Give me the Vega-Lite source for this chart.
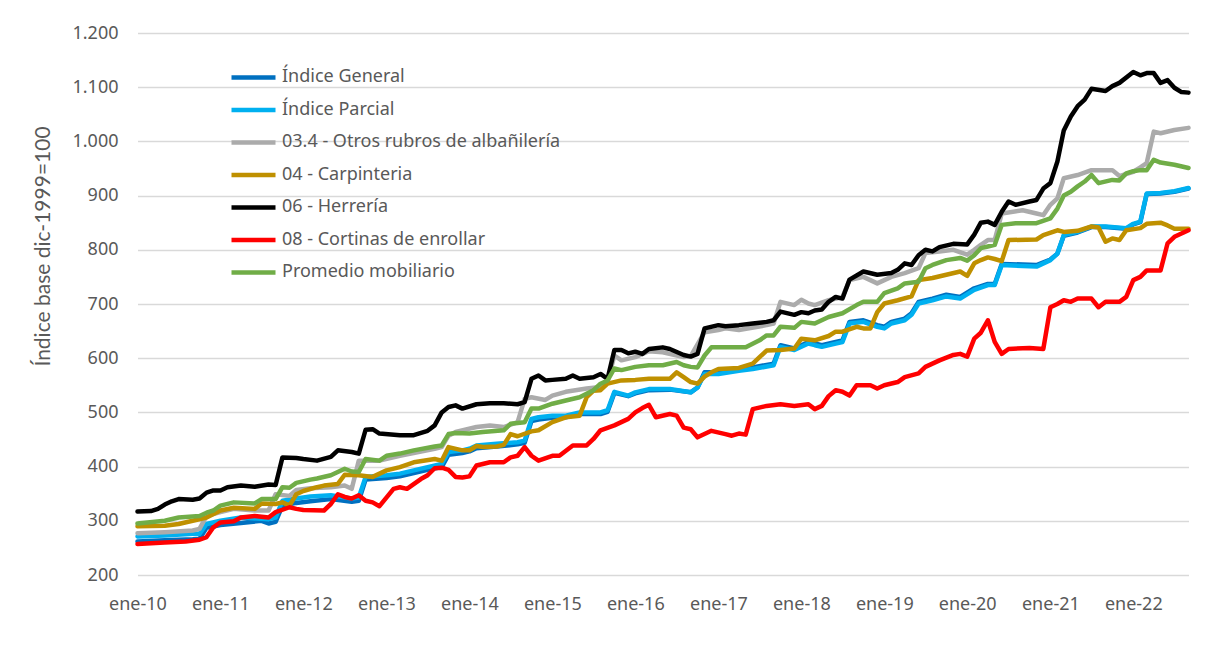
{
"$schema": "https://vega.github.io/schema/vega-lite/v6.json",
"width": 1051, "height": 542,
"autosize": {"type": "none"},
"padding": {"left": 137.5, "top": 33, "right": 22.5, "bottom": 83},
"background": "white",
"config": {"view": {"stroke": null}, "font": "Noto Sans"},
"data": {"values": [
{"serie":"Índice General","fecha":"2010-01-01","valor":262},{"serie":"Índice General","fecha":"2010-05-01","valor":264},{"serie":"Índice General","fecha":"2010-09-01","valor":266},{"serie":"Índice General","fecha":"2010-10-01","valor":267},{"serie":"Índice General","fecha":"2010-11-01","valor":287},{"serie":"Índice General","fecha":"2011-01-01","valor":292},{"serie":"Índice General","fecha":"2011-04-01","valor":296},{"serie":"Índice General","fecha":"2011-07-01","valor":300},{"serie":"Índice General","fecha":"2011-08-01","valor":295},{"serie":"Índice General","fecha":"2011-09-01","valor":298},{"serie":"Índice General","fecha":"2011-10-01","valor":328},{"serie":"Índice General","fecha":"2011-12-01","valor":333},{"serie":"Índice General","fecha":"2012-02-01","valor":336},{"serie":"Índice General","fecha":"2012-05-01","valor":340},{"serie":"Índice General","fecha":"2012-08-01","valor":335},{"serie":"Índice General","fecha":"2012-09-01","valor":337},{"serie":"Índice General","fecha":"2012-10-01","valor":376},{"serie":"Índice General","fecha":"2013-01-01","valor":379},{"serie":"Índice General","fecha":"2013-03-01","valor":382},{"serie":"Índice General","fecha":"2013-05-01","valor":388},{"serie":"Índice General","fecha":"2013-07-01","valor":394},{"serie":"Índice General","fecha":"2013-09-01","valor":399},{"serie":"Índice General","fecha":"2013-10-01","valor":422},{"serie":"Índice General","fecha":"2013-12-01","valor":425},{"serie":"Índice General","fecha":"2014-01-01","valor":428},{"serie":"Índice General","fecha":"2014-02-01","valor":434},{"serie":"Índice General","fecha":"2014-05-01","valor":437},{"serie":"Índice General","fecha":"2014-08-01","valor":441},{"serie":"Índice General","fecha":"2014-09-01","valor":444},{"serie":"Índice General","fecha":"2014-10-01","valor":484},{"serie":"Índice General","fecha":"2014-11-01","valor":487},{"serie":"Índice General","fecha":"2015-01-01","valor":490},{"serie":"Índice General","fecha":"2015-03-01","valor":491},{"serie":"Índice General","fecha":"2015-05-01","valor":497},{"serie":"Índice General","fecha":"2015-08-01","valor":497},{"serie":"Índice General","fecha":"2015-09-01","valor":501},{"serie":"Índice General","fecha":"2015-10-01","valor":536},{"serie":"Índice General","fecha":"2015-12-01","valor":530},{"serie":"Índice General","fecha":"2016-01-01","valor":535},{"serie":"Índice General","fecha":"2016-03-01","valor":541},{"serie":"Índice General","fecha":"2016-06-01","valor":542},{"serie":"Índice General","fecha":"2016-09-01","valor":537},{"serie":"Índice General","fecha":"2016-10-01","valor":546},{"serie":"Índice General","fecha":"2016-11-01","valor":574},{"serie":"Índice General","fecha":"2017-01-01","valor":574},{"serie":"Índice General","fecha":"2017-04-01","valor":580},{"serie":"Índice General","fecha":"2017-06-01","valor":583},{"serie":"Índice General","fecha":"2017-09-01","valor":590},{"serie":"Índice General","fecha":"2017-10-01","valor":624},{"serie":"Índice General","fecha":"2017-12-01","valor":618},{"serie":"Índice General","fecha":"2018-02-01","valor":630},{"serie":"Índice General","fecha":"2018-03-01","valor":627},{"serie":"Índice General","fecha":"2018-04-01","valor":624},{"serie":"Índice General","fecha":"2018-06-01","valor":630},{"serie":"Índice General","fecha":"2018-07-01","valor":633},{"serie":"Índice General","fecha":"2018-08-01","valor":667},{"serie":"Índice General","fecha":"2018-10-01","valor":670},{"serie":"Índice General","fecha":"2018-12-01","valor":661},{"serie":"Índice General","fecha":"2019-01-01","valor":658},{"serie":"Índice General","fecha":"2019-02-01","valor":667},{"serie":"Índice General","fecha":"2019-04-01","valor":673},{"serie":"Índice General","fecha":"2019-05-01","valor":683},{"serie":"Índice General","fecha":"2019-06-01","valor":704},{"serie":"Índice General","fecha":"2019-08-01","valor":710},{"serie":"Índice General","fecha":"2019-10-01","valor":717},{"serie":"Índice General","fecha":"2019-12-01","valor":713},{"serie":"Índice General","fecha":"2020-02-01","valor":729},{"serie":"Índice General","fecha":"2020-04-01","valor":737},{"serie":"Índice General","fecha":"2020-05-01","valor":737},{"serie":"Índice General","fecha":"2020-06-01","valor":774},{"serie":"Índice General","fecha":"2020-11-01","valor":772},{"serie":"Índice General","fecha":"2021-01-01","valor":782},{"serie":"Índice General","fecha":"2021-02-01","valor":793},{"serie":"Índice General","fecha":"2021-03-01","valor":826},{"serie":"Índice General","fecha":"2021-05-01","valor":832},{"serie":"Índice General","fecha":"2021-07-01","valor":842},{"serie":"Índice General","fecha":"2021-09-01","valor":842},{"serie":"Índice General","fecha":"2021-12-01","valor":839},{"serie":"Índice General","fecha":"2022-01-01","valor":847},{"serie":"Índice General","fecha":"2022-02-01","valor":851},{"serie":"Índice General","fecha":"2022-03-01","valor":903},{"serie":"Índice General","fecha":"2022-05-01","valor":904},{"serie":"Índice General","fecha":"2022-07-01","valor":907},{"serie":"Índice General","fecha":"2022-09-01","valor":913},
{"serie":"Índice Parcial","fecha":"2010-01-01","valor":271},{"serie":"Índice Parcial","fecha":"2010-05-01","valor":273},{"serie":"Índice Parcial","fecha":"2010-09-01","valor":276},{"serie":"Índice Parcial","fecha":"2010-10-01","valor":276},{"serie":"Índice Parcial","fecha":"2010-11-01","valor":294},{"serie":"Índice Parcial","fecha":"2011-01-01","valor":300},{"serie":"Índice Parcial","fecha":"2011-04-01","valor":306},{"serie":"Índice Parcial","fecha":"2011-08-01","valor":303},{"serie":"Índice Parcial","fecha":"2011-09-01","valor":306},{"serie":"Índice Parcial","fecha":"2011-10-01","valor":337},{"serie":"Índice Parcial","fecha":"2011-12-01","valor":341},{"serie":"Índice Parcial","fecha":"2012-02-01","valor":345},{"serie":"Índice Parcial","fecha":"2012-05-01","valor":347},{"serie":"Índice Parcial","fecha":"2012-08-01","valor":341},{"serie":"Índice Parcial","fecha":"2012-09-01","valor":343},{"serie":"Índice Parcial","fecha":"2012-10-01","valor":381},{"serie":"Índice Parcial","fecha":"2013-01-01","valor":384},{"serie":"Índice Parcial","fecha":"2013-03-01","valor":387},{"serie":"Índice Parcial","fecha":"2013-05-01","valor":393},{"serie":"Índice Parcial","fecha":"2013-07-01","valor":399},{"serie":"Índice Parcial","fecha":"2013-09-01","valor":405},{"serie":"Índice Parcial","fecha":"2013-10-01","valor":427},{"serie":"Índice Parcial","fecha":"2013-12-01","valor":430},{"serie":"Índice Parcial","fecha":"2014-01-01","valor":433},{"serie":"Índice Parcial","fecha":"2014-02-01","valor":439},{"serie":"Índice Parcial","fecha":"2014-05-01","valor":442},{"serie":"Índice Parcial","fecha":"2014-08-01","valor":445},{"serie":"Índice Parcial","fecha":"2014-09-01","valor":448},{"serie":"Índice Parcial","fecha":"2014-10-01","valor":488},{"serie":"Índice Parcial","fecha":"2014-11-01","valor":491},{"serie":"Índice Parcial","fecha":"2015-01-01","valor":494},{"serie":"Índice Parcial","fecha":"2015-03-01","valor":494},{"serie":"Índice Parcial","fecha":"2015-05-01","valor":500},{"serie":"Índice Parcial","fecha":"2015-08-01","valor":500},{"serie":"Índice Parcial","fecha":"2015-09-01","valor":504},{"serie":"Índice Parcial","fecha":"2015-10-01","valor":538},{"serie":"Índice Parcial","fecha":"2015-12-01","valor":531},{"serie":"Índice Parcial","fecha":"2016-01-01","valor":537},{"serie":"Índice Parcial","fecha":"2016-03-01","valor":543},{"serie":"Índice Parcial","fecha":"2016-06-01","valor":543},{"serie":"Índice Parcial","fecha":"2016-09-01","valor":537},{"serie":"Índice Parcial","fecha":"2016-10-01","valor":546},{"serie":"Índice Parcial","fecha":"2016-11-01","valor":571},{"serie":"Índice Parcial","fecha":"2017-01-01","valor":571},{"serie":"Índice Parcial","fecha":"2017-04-01","valor":577},{"serie":"Índice Parcial","fecha":"2017-06-01","valor":580},{"serie":"Índice Parcial","fecha":"2017-09-01","valor":587},{"serie":"Índice Parcial","fecha":"2017-10-01","valor":621},{"serie":"Índice Parcial","fecha":"2017-12-01","valor":615},{"serie":"Índice Parcial","fecha":"2018-02-01","valor":627},{"serie":"Índice Parcial","fecha":"2018-03-01","valor":624},{"serie":"Índice Parcial","fecha":"2018-04-01","valor":621},{"serie":"Índice Parcial","fecha":"2018-06-01","valor":627},{"serie":"Índice Parcial","fecha":"2018-07-01","valor":630},{"serie":"Índice Parcial","fecha":"2018-08-01","valor":664},{"serie":"Índice Parcial","fecha":"2018-10-01","valor":667},{"serie":"Índice Parcial","fecha":"2018-12-01","valor":658},{"serie":"Índice Parcial","fecha":"2019-01-01","valor":655},{"serie":"Índice Parcial","fecha":"2019-02-01","valor":664},{"serie":"Índice Parcial","fecha":"2019-04-01","valor":670},{"serie":"Índice Parcial","fecha":"2019-05-01","valor":680},{"serie":"Índice Parcial","fecha":"2019-06-01","valor":701},{"serie":"Índice Parcial","fecha":"2019-08-01","valor":707},{"serie":"Índice Parcial","fecha":"2019-10-01","valor":714},{"serie":"Índice Parcial","fecha":"2019-12-01","valor":710},{"serie":"Índice Parcial","fecha":"2020-02-01","valor":726},{"serie":"Índice Parcial","fecha":"2020-04-01","valor":735},{"serie":"Índice Parcial","fecha":"2020-05-01","valor":735},{"serie":"Índice Parcial","fecha":"2020-06-01","valor":772},{"serie":"Índice Parcial","fecha":"2020-11-01","valor":769},{"serie":"Índice Parcial","fecha":"2021-01-01","valor":781},{"serie":"Índice Parcial","fecha":"2021-02-01","valor":793},{"serie":"Índice Parcial","fecha":"2021-03-01","valor":827},{"serie":"Índice Parcial","fecha":"2021-05-01","valor":833},{"serie":"Índice Parcial","fecha":"2021-07-01","valor":843},{"serie":"Índice Parcial","fecha":"2021-09-01","valor":843},{"serie":"Índice Parcial","fecha":"2021-12-01","valor":840},{"serie":"Índice Parcial","fecha":"2022-01-01","valor":848},{"serie":"Índice Parcial","fecha":"2022-02-01","valor":852},{"serie":"Índice Parcial","fecha":"2022-03-01","valor":904},{"serie":"Índice Parcial","fecha":"2022-05-01","valor":905},{"serie":"Índice Parcial","fecha":"2022-07-01","valor":908},{"serie":"Índice Parcial","fecha":"2022-09-01","valor":914},
{"serie":"03.4 - Otros rubros de albañilería","fecha":"2010-01-01","valor":277},{"serie":"03.4 - Otros rubros de albañilería","fecha":"2010-05-01","valor":279},{"serie":"03.4 - Otros rubros de albañilería","fecha":"2010-09-01","valor":282},{"serie":"03.4 - Otros rubros de albañilería","fecha":"2010-10-01","valor":285},{"serie":"03.4 - Otros rubros de albañilería","fecha":"2010-11-01","valor":309},{"serie":"03.4 - Otros rubros de albañilería","fecha":"2011-01-01","valor":316},{"serie":"03.4 - Otros rubros de albañilería","fecha":"2011-03-01","valor":322},{"serie":"03.4 - Otros rubros de albañilería","fecha":"2011-06-01","valor":319},{"serie":"03.4 - Otros rubros de albañilería","fecha":"2011-08-01","valor":319},{"serie":"03.4 - Otros rubros de albañilería","fecha":"2011-09-01","valor":349},{"serie":"03.4 - Otros rubros de albañilería","fecha":"2011-11-01","valor":346},{"serie":"03.4 - Otros rubros de albañilería","fecha":"2011-12-01","valor":357},{"serie":"03.4 - Otros rubros de albañilería","fecha":"2012-02-01","valor":360},{"serie":"03.4 - Otros rubros de albañilería","fecha":"2012-05-01","valor":362},{"serie":"03.4 - Otros rubros de albañilería","fecha":"2012-07-01","valor":365},{"serie":"03.4 - Otros rubros de albañilería","fecha":"2012-08-01","valor":359},{"serie":"03.4 - Otros rubros de albañilería","fecha":"2012-09-01","valor":411},{"serie":"03.4 - Otros rubros de albañilería","fecha":"2012-12-01","valor":411},{"serie":"03.4 - Otros rubros de albañilería","fecha":"2013-03-01","valor":420},{"serie":"03.4 - Otros rubros de albañilería","fecha":"2013-08-01","valor":433},{"serie":"03.4 - Otros rubros de albañilería","fecha":"2013-09-01","valor":436},{"serie":"03.4 - Otros rubros de albañilería","fecha":"2013-10-01","valor":457},{"serie":"03.4 - Otros rubros de albañilería","fecha":"2013-11-01","valor":464},{"serie":"03.4 - Otros rubros de albañilería","fecha":"2014-02-01","valor":473},{"serie":"03.4 - Otros rubros de albañilería","fecha":"2014-04-01","valor":476},{"serie":"03.4 - Otros rubros de albañilería","fecha":"2014-06-01","valor":473},{"serie":"03.4 - Otros rubros de albañilería","fecha":"2014-08-01","valor":482},{"serie":"03.4 - Otros rubros de albañilería","fecha":"2014-09-01","valor":525},{"serie":"03.4 - Otros rubros de albañilería","fecha":"2014-10-01","valor":528},{"serie":"03.4 - Otros rubros de albañilería","fecha":"2014-12-01","valor":523},{"serie":"03.4 - Otros rubros de albañilería","fecha":"2015-01-01","valor":531},{"serie":"03.4 - Otros rubros de albañilería","fecha":"2015-03-01","valor":538},{"serie":"03.4 - Otros rubros de albañilería","fecha":"2015-06-01","valor":544},{"serie":"03.4 - Otros rubros de albañilería","fecha":"2015-08-01","valor":547},{"serie":"03.4 - Otros rubros de albañilería","fecha":"2015-09-01","valor":556},{"serie":"03.4 - Otros rubros de albañilería","fecha":"2015-10-01","valor":605},{"serie":"03.4 - Otros rubros de albañilería","fecha":"2015-11-01","valor":596},{"serie":"03.4 - Otros rubros de albañilería","fecha":"2016-01-01","valor":602},{"serie":"03.4 - Otros rubros de albañilería","fecha":"2016-03-01","valor":613},{"serie":"03.4 - Otros rubros de albañilería","fecha":"2016-05-01","valor":611},{"serie":"03.4 - Otros rubros de albañilería","fecha":"2016-08-01","valor":602},{"serie":"03.4 - Otros rubros de albañilería","fecha":"2016-09-01","valor":604},{"serie":"03.4 - Otros rubros de albañilería","fecha":"2016-11-01","valor":648},{"serie":"03.4 - Otros rubros de albañilería","fecha":"2017-01-01","valor":652},{"serie":"03.4 - Otros rubros de albañilería","fecha":"2017-02-01","valor":655},{"serie":"03.4 - Otros rubros de albañilería","fecha":"2017-04-01","valor":652},{"serie":"03.4 - Otros rubros de albañilería","fecha":"2017-08-01","valor":661},{"serie":"03.4 - Otros rubros de albañilería","fecha":"2017-09-01","valor":664},{"serie":"03.4 - Otros rubros de albañilería","fecha":"2017-10-01","valor":704},{"serie":"03.4 - Otros rubros de albañilería","fecha":"2017-12-01","valor":698},{"serie":"03.4 - Otros rubros de albañilería","fecha":"2018-01-01","valor":708},{"serie":"03.4 - Otros rubros de albañilería","fecha":"2018-02-01","valor":701},{"serie":"03.4 - Otros rubros de albañilería","fecha":"2018-03-01","valor":698},{"serie":"03.4 - Otros rubros de albañilería","fecha":"2018-05-01","valor":707},{"serie":"03.4 - Otros rubros de albañilería","fecha":"2018-07-01","valor":713},{"serie":"03.4 - Otros rubros de albañilería","fecha":"2018-08-01","valor":744},{"serie":"03.4 - Otros rubros de albañilería","fecha":"2018-10-01","valor":750},{"serie":"03.4 - Otros rubros de albañilería","fecha":"2018-12-01","valor":738},{"serie":"03.4 - Otros rubros de albañilería","fecha":"2019-02-01","valor":750},{"serie":"03.4 - Otros rubros de albañilería","fecha":"2019-04-01","valor":757},{"serie":"03.4 - Otros rubros de albañilería","fecha":"2019-06-01","valor":766},{"serie":"03.4 - Otros rubros de albañilería","fecha":"2019-07-01","valor":794},{"serie":"03.4 - Otros rubros de albañilería","fecha":"2019-09-01","valor":797},{"serie":"03.4 - Otros rubros de albañilería","fecha":"2019-11-01","valor":800},{"serie":"03.4 - Otros rubros de albañilería","fecha":"2020-01-01","valor":791},{"serie":"03.4 - Otros rubros de albañilería","fecha":"2020-02-01","valor":800},{"serie":"03.4 - Otros rubros de albañilería","fecha":"2020-03-01","valor":809},{"serie":"03.4 - Otros rubros de albañilería","fecha":"2020-04-01","valor":818},{"serie":"03.4 - Otros rubros de albañilería","fecha":"2020-05-01","valor":818},{"serie":"03.4 - Otros rubros de albañilería","fecha":"2020-06-01","valor":867},{"serie":"03.4 - Otros rubros de albañilería","fecha":"2020-09-01","valor":873},{"serie":"03.4 - Otros rubros de albañilería","fecha":"2020-11-01","valor":867},{"serie":"03.4 - Otros rubros de albañilería","fecha":"2020-12-01","valor":864},{"serie":"03.4 - Otros rubros de albañilería","fecha":"2021-01-01","valor":883},{"serie":"03.4 - Otros rubros de albañilería","fecha":"2021-02-01","valor":895},{"serie":"03.4 - Otros rubros de albañilería","fecha":"2021-03-01","valor":932},{"serie":"03.4 - Otros rubros de albañilería","fecha":"2021-05-01","valor":938},{"serie":"03.4 - Otros rubros de albañilería","fecha":"2021-07-01","valor":947},{"serie":"03.4 - Otros rubros de albañilería","fecha":"2021-10-01","valor":947},{"serie":"03.4 - Otros rubros de albañilería","fecha":"2021-11-01","valor":936},{"serie":"03.4 - Otros rubros de albañilería","fecha":"2022-01-01","valor":944},{"serie":"03.4 - Otros rubros de albañilería","fecha":"2022-02-01","valor":952},{"serie":"03.4 - Otros rubros de albañilería","fecha":"2022-03-01","valor":960},{"serie":"03.4 - Otros rubros de albañilería","fecha":"2022-04-01","valor":1018},{"serie":"03.4 - Otros rubros de albañilería","fecha":"2022-05-01","valor":1015},{"serie":"03.4 - Otros rubros de albañilería","fecha":"2022-07-01","valor":1021},{"serie":"03.4 - Otros rubros de albañilería","fecha":"2022-09-01","valor":1025},
{"serie":"04 - Carpinteria","fecha":"2010-01-01","valor":290},{"serie":"04 - Carpinteria","fecha":"2010-05-01","valor":291},{"serie":"04 - Carpinteria","fecha":"2010-07-01","valor":294},{"serie":"04 - Carpinteria","fecha":"2010-09-01","valor":300},{"serie":"04 - Carpinteria","fecha":"2010-11-01","valor":306},{"serie":"04 - Carpinteria","fecha":"2011-01-01","valor":319},{"serie":"04 - Carpinteria","fecha":"2011-03-01","valor":324},{"serie":"04 - Carpinteria","fecha":"2011-06-01","valor":322},{"serie":"04 - Carpinteria","fecha":"2011-07-01","valor":332},{"serie":"04 - Carpinteria","fecha":"2011-09-01","valor":331},{"serie":"04 - Carpinteria","fecha":"2011-10-01","valor":334},{"serie":"04 - Carpinteria","fecha":"2011-11-01","valor":328},{"serie":"04 - Carpinteria","fecha":"2011-12-01","valor":349},{"serie":"04 - Carpinteria","fecha":"2012-01-01","valor":355},{"serie":"04 - Carpinteria","fecha":"2012-03-01","valor":362},{"serie":"04 - Carpinteria","fecha":"2012-04-01","valor":365},{"serie":"04 - Carpinteria","fecha":"2012-06-01","valor":368},{"serie":"04 - Carpinteria","fecha":"2012-07-01","valor":385},{"serie":"04 - Carpinteria","fecha":"2012-09-01","valor":384},{"serie":"04 - Carpinteria","fecha":"2012-11-01","valor":381},{"serie":"04 - Carpinteria","fecha":"2013-01-01","valor":393},{"serie":"04 - Carpinteria","fecha":"2013-03-01","valor":399},{"serie":"04 - Carpinteria","fecha":"2013-05-01","valor":408},{"serie":"04 - Carpinteria","fecha":"2013-08-01","valor":414},{"serie":"04 - Carpinteria","fecha":"2013-09-01","valor":411},{"serie":"04 - Carpinteria","fecha":"2013-10-01","valor":436},{"serie":"04 - Carpinteria","fecha":"2013-12-01","valor":430},{"serie":"04 - Carpinteria","fecha":"2014-01-01","valor":430},{"serie":"04 - Carpinteria","fecha":"2014-02-01","valor":438},{"serie":"04 - Carpinteria","fecha":"2014-03-01","valor":436},{"serie":"04 - Carpinteria","fecha":"2014-05-01","valor":437},{"serie":"04 - Carpinteria","fecha":"2014-06-01","valor":440},{"serie":"04 - Carpinteria","fecha":"2014-07-01","valor":460},{"serie":"04 - Carpinteria","fecha":"2014-08-01","valor":456},{"serie":"04 - Carpinteria","fecha":"2014-10-01","valor":465},{"serie":"04 - Carpinteria","fecha":"2014-11-01","valor":467},{"serie":"04 - Carpinteria","fecha":"2015-01-01","valor":482},{"serie":"04 - Carpinteria","fecha":"2015-03-01","valor":491},{"serie":"04 - Carpinteria","fecha":"2015-05-01","valor":494},{"serie":"04 - Carpinteria","fecha":"2015-06-01","valor":528},{"serie":"04 - Carpinteria","fecha":"2015-07-01","valor":540},{"serie":"04 - Carpinteria","fecha":"2015-08-01","valor":541},{"serie":"04 - Carpinteria","fecha":"2015-09-01","valor":553},{"serie":"04 - Carpinteria","fecha":"2015-11-01","valor":559},{"serie":"04 - Carpinteria","fecha":"2016-01-01","valor":560},{"serie":"04 - Carpinteria","fecha":"2016-03-01","valor":562},{"serie":"04 - Carpinteria","fecha":"2016-06-01","valor":562},{"serie":"04 - Carpinteria","fecha":"2016-07-01","valor":574},{"serie":"04 - Carpinteria","fecha":"2016-08-01","valor":565},{"serie":"04 - Carpinteria","fecha":"2016-09-01","valor":556},{"serie":"04 - Carpinteria","fecha":"2016-10-01","valor":553},{"serie":"04 - Carpinteria","fecha":"2016-11-01","valor":566},{"serie":"04 - Carpinteria","fecha":"2016-12-01","valor":574},{"serie":"04 - Carpinteria","fecha":"2017-01-01","valor":580},{"serie":"04 - Carpinteria","fecha":"2017-04-01","valor":582},{"serie":"04 - Carpinteria","fecha":"2017-06-01","valor":590},{"serie":"04 - Carpinteria","fecha":"2017-07-01","valor":602},{"serie":"04 - Carpinteria","fecha":"2017-08-01","valor":614},{"serie":"04 - Carpinteria","fecha":"2017-10-01","valor":615},{"serie":"04 - Carpinteria","fecha":"2017-12-01","valor":618},{"serie":"04 - Carpinteria","fecha":"2018-01-01","valor":636},{"serie":"04 - Carpinteria","fecha":"2018-03-01","valor":633},{"serie":"04 - Carpinteria","fecha":"2018-05-01","valor":641},{"serie":"04 - Carpinteria","fecha":"2018-06-01","valor":649},{"serie":"04 - Carpinteria","fecha":"2018-07-01","valor":649},{"serie":"04 - Carpinteria","fecha":"2018-09-01","valor":658},{"serie":"04 - Carpinteria","fecha":"2018-10-01","valor":655},{"serie":"04 - Carpinteria","fecha":"2018-11-01","valor":655},{"serie":"04 - Carpinteria","fecha":"2018-12-01","valor":685},{"serie":"04 - Carpinteria","fecha":"2019-01-01","valor":701},{"serie":"04 - Carpinteria","fecha":"2019-03-01","valor":707},{"serie":"04 - Carpinteria","fecha":"2019-05-01","valor":714},{"serie":"04 - Carpinteria","fecha":"2019-06-01","valor":744},{"serie":"04 - Carpinteria","fecha":"2019-08-01","valor":748},{"serie":"04 - Carpinteria","fecha":"2019-10-01","valor":754},{"serie":"04 - Carpinteria","fecha":"2019-12-01","valor":760},{"serie":"04 - Carpinteria","fecha":"2020-01-01","valor":752},{"serie":"04 - Carpinteria","fecha":"2020-02-01","valor":775},{"serie":"04 - Carpinteria","fecha":"2020-03-01","valor":781},{"serie":"04 - Carpinteria","fecha":"2020-04-01","valor":786},{"serie":"04 - Carpinteria","fecha":"2020-05-01","valor":783},{"serie":"04 - Carpinteria","fecha":"2020-06-01","valor":779},{"serie":"04 - Carpinteria","fecha":"2020-07-01","valor":818},{"serie":"04 - Carpinteria","fecha":"2020-11-01","valor":819},{"serie":"04 - Carpinteria","fecha":"2020-12-01","valor":827},{"serie":"04 - Carpinteria","fecha":"2021-02-01","valor":836},{"serie":"04 - Carpinteria","fecha":"2021-03-01","valor":833},{"serie":"04 - Carpinteria","fecha":"2021-05-01","valor":835},{"serie":"04 - Carpinteria","fecha":"2021-07-01","valor":843},{"serie":"04 - Carpinteria","fecha":"2021-08-01","valor":841},{"serie":"04 - Carpinteria","fecha":"2021-09-01","valor":815},{"serie":"04 - Carpinteria","fecha":"2021-10-01","valor":821},{"serie":"04 - Carpinteria","fecha":"2021-11-01","valor":818},{"serie":"04 - Carpinteria","fecha":"2021-12-01","valor":836},{"serie":"04 - Carpinteria","fecha":"2022-02-01","valor":840},{"serie":"04 - Carpinteria","fecha":"2022-03-01","valor":848},{"serie":"04 - Carpinteria","fecha":"2022-05-01","valor":850},{"serie":"04 - Carpinteria","fecha":"2022-06-01","valor":845},{"serie":"04 - Carpinteria","fecha":"2022-07-01","valor":839},{"serie":"04 - Carpinteria","fecha":"2022-09-01","valor":839},
{"serie":"06 - Herrería","fecha":"2010-01-01","valor":317},{"serie":"06 - Herrería","fecha":"2010-03-01","valor":318},{"serie":"06 - Herrería","fecha":"2010-04-01","valor":322},{"serie":"06 - Herrería","fecha":"2010-05-01","valor":330},{"serie":"06 - Herrería","fecha":"2010-06-01","valor":336},{"serie":"06 - Herrería","fecha":"2010-07-01","valor":340},{"serie":"06 - Herrería","fecha":"2010-09-01","valor":339},{"serie":"06 - Herrería","fecha":"2010-10-01","valor":341},{"serie":"06 - Herrería","fecha":"2010-11-01","valor":352},{"serie":"06 - Herrería","fecha":"2010-12-01","valor":356},{"serie":"06 - Herrería","fecha":"2011-01-01","valor":356},{"serie":"06 - Herrería","fecha":"2011-02-01","valor":362},{"serie":"06 - Herrería","fecha":"2011-04-01","valor":365},{"serie":"06 - Herrería","fecha":"2011-06-01","valor":363},{"serie":"06 - Herrería","fecha":"2011-08-01","valor":367},{"serie":"06 - Herrería","fecha":"2011-09-01","valor":366},{"serie":"06 - Herrería","fecha":"2011-10-01","valor":417},{"serie":"06 - Herrería","fecha":"2011-12-01","valor":416},{"serie":"06 - Herrería","fecha":"2012-01-01","valor":414},{"serie":"06 - Herrería","fecha":"2012-03-01","valor":411},{"serie":"06 - Herrería","fecha":"2012-05-01","valor":418},{"serie":"06 - Herrería","fecha":"2012-06-01","valor":430},{"serie":"06 - Herrería","fecha":"2012-08-01","valor":427},{"serie":"06 - Herrería","fecha":"2012-09-01","valor":424},{"serie":"06 - Herrería","fecha":"2012-10-01","valor":468},{"serie":"06 - Herrería","fecha":"2012-11-01","valor":469},{"serie":"06 - Herrería","fecha":"2012-12-01","valor":461},{"serie":"06 - Herrería","fecha":"2013-03-01","valor":458},{"serie":"06 - Herrería","fecha":"2013-05-01","valor":458},{"serie":"06 - Herrería","fecha":"2013-07-01","valor":466},{"serie":"06 - Herrería","fecha":"2013-08-01","valor":476},{"serie":"06 - Herrería","fecha":"2013-09-01","valor":500},{"serie":"06 - Herrería","fecha":"2013-10-01","valor":510},{"serie":"06 - Herrería","fecha":"2013-11-01","valor":513},{"serie":"06 - Herrería","fecha":"2013-12-01","valor":507},{"serie":"06 - Herrería","fecha":"2014-02-01","valor":515},{"serie":"06 - Herrería","fecha":"2014-04-01","valor":517},{"serie":"06 - Herrería","fecha":"2014-06-01","valor":517},{"serie":"06 - Herrería","fecha":"2014-08-01","valor":515},{"serie":"06 - Herrería","fecha":"2014-09-01","valor":519},{"serie":"06 - Herrería","fecha":"2014-10-01","valor":562},{"serie":"06 - Herrería","fecha":"2014-11-01","valor":568},{"serie":"06 - Herrería","fecha":"2014-12-01","valor":559},{"serie":"06 - Herrería","fecha":"2015-01-01","valor":560},{"serie":"06 - Herrería","fecha":"2015-03-01","valor":562},{"serie":"06 - Herrería","fecha":"2015-04-01","valor":568},{"serie":"06 - Herrería","fecha":"2015-05-01","valor":562},{"serie":"06 - Herrería","fecha":"2015-07-01","valor":565},{"serie":"06 - Herrería","fecha":"2015-08-01","valor":571},{"serie":"06 - Herrería","fecha":"2015-09-01","valor":562},{"serie":"06 - Herrería","fecha":"2015-10-01","valor":615},{"serie":"06 - Herrería","fecha":"2015-11-01","valor":615},{"serie":"06 - Herrería","fecha":"2015-12-01","valor":609},{"serie":"06 - Herrería","fecha":"2016-01-01","valor":612},{"serie":"06 - Herrería","fecha":"2016-02-01","valor":608},{"serie":"06 - Herrería","fecha":"2016-03-01","valor":617},{"serie":"06 - Herrería","fecha":"2016-05-01","valor":620},{"serie":"06 - Herrería","fecha":"2016-06-01","valor":617},{"serie":"06 - Herrería","fecha":"2016-08-01","valor":606},{"serie":"06 - Herrería","fecha":"2016-09-01","valor":603},{"serie":"06 - Herrería","fecha":"2016-10-01","valor":608},{"serie":"06 - Herrería","fecha":"2016-11-01","valor":655},{"serie":"06 - Herrería","fecha":"2017-01-01","valor":661},{"serie":"06 - Herrería","fecha":"2017-02-01","valor":659},{"serie":"06 - Herrería","fecha":"2017-04-01","valor":661},{"serie":"06 - Herrería","fecha":"2017-06-01","valor":664},{"serie":"06 - Herrería","fecha":"2017-08-01","valor":667},{"serie":"06 - Herrería","fecha":"2017-09-01","valor":670},{"serie":"06 - Herrería","fecha":"2017-10-01","valor":686},{"serie":"06 - Herrería","fecha":"2017-12-01","valor":680},{"serie":"06 - Herrería","fecha":"2018-01-01","valor":685},{"serie":"06 - Herrería","fecha":"2018-02-01","valor":683},{"serie":"06 - Herrería","fecha":"2018-03-01","valor":688},{"serie":"06 - Herrería","fecha":"2018-04-01","valor":690},{"serie":"06 - Herrería","fecha":"2018-05-01","valor":704},{"serie":"06 - Herrería","fecha":"2018-06-01","valor":713},{"serie":"06 - Herrería","fecha":"2018-07-01","valor":710},{"serie":"06 - Herrería","fecha":"2018-08-01","valor":745},{"serie":"06 - Herrería","fecha":"2018-10-01","valor":760},{"serie":"06 - Herrería","fecha":"2018-12-01","valor":754},{"serie":"06 - Herrería","fecha":"2019-02-01","valor":757},{"serie":"06 - Herrería","fecha":"2019-03-01","valor":763},{"serie":"06 - Herrería","fecha":"2019-04-01","valor":775},{"serie":"06 - Herrería","fecha":"2019-05-01","valor":772},{"serie":"06 - Herrería","fecha":"2019-06-01","valor":790},{"serie":"06 - Herrería","fecha":"2019-07-01","valor":800},{"serie":"06 - Herrería","fecha":"2019-08-01","valor":797},{"serie":"06 - Herrería","fecha":"2019-09-01","valor":805},{"serie":"06 - Herrería","fecha":"2019-11-01","valor":811},{"serie":"06 - Herrería","fecha":"2020-01-01","valor":810},{"serie":"06 - Herrería","fecha":"2020-02-01","valor":828},{"serie":"06 - Herrería","fecha":"2020-03-01","valor":850},{"serie":"06 - Herrería","fecha":"2020-04-01","valor":852},{"serie":"06 - Herrería","fecha":"2020-05-01","valor":846},{"serie":"06 - Herrería","fecha":"2020-06-01","valor":870},{"serie":"06 - Herrería","fecha":"2020-07-01","valor":889},{"serie":"06 - Herrería","fecha":"2020-08-01","valor":883},{"serie":"06 - Herrería","fecha":"2020-10-01","valor":889},{"serie":"06 - Herrería","fecha":"2020-11-01","valor":892},{"serie":"06 - Herrería","fecha":"2020-12-01","valor":913},{"serie":"06 - Herrería","fecha":"2021-01-01","valor":923},{"serie":"06 - Herrería","fecha":"2021-02-01","valor":963},{"serie":"06 - Herrería","fecha":"2021-03-01","valor":1020},{"serie":"06 - Herrería","fecha":"2021-04-01","valor":1046},{"serie":"06 - Herrería","fecha":"2021-05-01","valor":1065},{"serie":"06 - Herrería","fecha":"2021-06-01","valor":1077},{"serie":"06 - Herrería","fecha":"2021-07-01","valor":1097},{"serie":"06 - Herrería","fecha":"2021-09-01","valor":1093},{"serie":"06 - Herrería","fecha":"2021-10-01","valor":1102},{"serie":"06 - Herrería","fecha":"2021-11-01","valor":1108},{"serie":"06 - Herrería","fecha":"2022-01-01","valor":1128},{"serie":"06 - Herrería","fecha":"2022-02-01","valor":1122},{"serie":"06 - Herrería","fecha":"2022-03-01","valor":1126},{"serie":"06 - Herrería","fecha":"2022-04-01","valor":1126},{"serie":"06 - Herrería","fecha":"2022-05-01","valor":1108},{"serie":"06 - Herrería","fecha":"2022-06-01","valor":1113},{"serie":"06 - Herrería","fecha":"2022-07-01","valor":1099},{"serie":"06 - Herrería","fecha":"2022-08-01","valor":1091},{"serie":"06 - Herrería","fecha":"2022-09-01","valor":1090},
{"serie":"08 - Cortinas de enrollar","fecha":"2010-01-01","valor":257},{"serie":"08 - Cortinas de enrollar","fecha":"2010-05-01","valor":260},{"serie":"08 - Cortinas de enrollar","fecha":"2010-08-01","valor":262},{"serie":"08 - Cortinas de enrollar","fecha":"2010-10-01","valor":265},{"serie":"08 - Cortinas de enrollar","fecha":"2010-11-01","valor":270},{"serie":"08 - Cortinas de enrollar","fecha":"2010-12-01","valor":288},{"serie":"08 - Cortinas de enrollar","fecha":"2011-01-01","valor":297},{"serie":"08 - Cortinas de enrollar","fecha":"2011-03-01","valor":299},{"serie":"08 - Cortinas de enrollar","fecha":"2011-04-01","valor":306},{"serie":"08 - Cortinas de enrollar","fecha":"2011-06-01","valor":309},{"serie":"08 - Cortinas de enrollar","fecha":"2011-08-01","valor":306},{"serie":"08 - Cortinas de enrollar","fecha":"2011-09-01","valor":316},{"serie":"08 - Cortinas de enrollar","fecha":"2011-11-01","valor":325},{"serie":"08 - Cortinas de enrollar","fecha":"2011-12-01","valor":322},{"serie":"08 - Cortinas de enrollar","fecha":"2012-01-01","valor":320},{"serie":"08 - Cortinas de enrollar","fecha":"2012-04-01","valor":319},{"serie":"08 - Cortinas de enrollar","fecha":"2012-05-01","valor":331},{"serie":"08 - Cortinas de enrollar","fecha":"2012-06-01","valor":349},{"serie":"08 - Cortinas de enrollar","fecha":"2012-07-01","valor":344},{"serie":"08 - Cortinas de enrollar","fecha":"2012-08-01","valor":341},{"serie":"08 - Cortinas de enrollar","fecha":"2012-09-01","valor":347},{"serie":"08 - Cortinas de enrollar","fecha":"2012-10-01","valor":337},{"serie":"08 - Cortinas de enrollar","fecha":"2012-11-01","valor":334},{"serie":"08 - Cortinas de enrollar","fecha":"2012-12-01","valor":327},{"serie":"08 - Cortinas de enrollar","fecha":"2013-02-01","valor":359},{"serie":"08 - Cortinas de enrollar","fecha":"2013-03-01","valor":362},{"serie":"08 - Cortinas de enrollar","fecha":"2013-04-01","valor":359},{"serie":"08 - Cortinas de enrollar","fecha":"2013-06-01","valor":377},{"serie":"08 - Cortinas de enrollar","fecha":"2013-07-01","valor":384},{"serie":"08 - Cortinas de enrollar","fecha":"2013-08-01","valor":397},{"serie":"08 - Cortinas de enrollar","fecha":"2013-09-01","valor":398},{"serie":"08 - Cortinas de enrollar","fecha":"2013-10-01","valor":394},{"serie":"08 - Cortinas de enrollar","fecha":"2013-11-01","valor":381},{"serie":"08 - Cortinas de enrollar","fecha":"2013-12-01","valor":380},{"serie":"08 - Cortinas de enrollar","fecha":"2014-01-01","valor":382},{"serie":"08 - Cortinas de enrollar","fecha":"2014-02-01","valor":402},{"serie":"08 - Cortinas de enrollar","fecha":"2014-04-01","valor":408},{"serie":"08 - Cortinas de enrollar","fecha":"2014-06-01","valor":408},{"serie":"08 - Cortinas de enrollar","fecha":"2014-07-01","valor":417},{"serie":"08 - Cortinas de enrollar","fecha":"2014-08-01","valor":420},{"serie":"08 - Cortinas de enrollar","fecha":"2014-09-01","valor":436},{"serie":"08 - Cortinas de enrollar","fecha":"2014-10-01","valor":420},{"serie":"08 - Cortinas de enrollar","fecha":"2014-11-01","valor":411},{"serie":"08 - Cortinas de enrollar","fecha":"2015-01-01","valor":420},{"serie":"08 - Cortinas de enrollar","fecha":"2015-02-01","valor":420},{"serie":"08 - Cortinas de enrollar","fecha":"2015-04-01","valor":439},{"serie":"08 - Cortinas de enrollar","fecha":"2015-06-01","valor":439},{"serie":"08 - Cortinas de enrollar","fecha":"2015-07-01","valor":451},{"serie":"08 - Cortinas de enrollar","fecha":"2015-08-01","valor":467},{"serie":"08 - Cortinas de enrollar","fecha":"2015-10-01","valor":476},{"serie":"08 - Cortinas de enrollar","fecha":"2015-12-01","valor":488},{"serie":"08 - Cortinas de enrollar","fecha":"2016-01-01","valor":500},{"serie":"08 - Cortinas de enrollar","fecha":"2016-02-01","valor":508},{"serie":"08 - Cortinas de enrollar","fecha":"2016-03-01","valor":514},{"serie":"08 - Cortinas de enrollar","fecha":"2016-04-01","valor":491},{"serie":"08 - Cortinas de enrollar","fecha":"2016-06-01","valor":497},{"serie":"08 - Cortinas de enrollar","fecha":"2016-07-01","valor":494},{"serie":"08 - Cortinas de enrollar","fecha":"2016-08-01","valor":472},{"serie":"08 - Cortinas de enrollar","fecha":"2016-09-01","valor":469},{"serie":"08 - Cortinas de enrollar","fecha":"2016-10-01","valor":454},{"serie":"08 - Cortinas de enrollar","fecha":"2016-12-01","valor":466},{"serie":"08 - Cortinas de enrollar","fecha":"2017-02-01","valor":460},{"serie":"08 - Cortinas de enrollar","fecha":"2017-03-01","valor":457},{"serie":"08 - Cortinas de enrollar","fecha":"2017-04-01","valor":461},{"serie":"08 - Cortinas de enrollar","fecha":"2017-05-01","valor":459},{"serie":"08 - Cortinas de enrollar","fecha":"2017-06-01","valor":506},{"serie":"08 - Cortinas de enrollar","fecha":"2017-08-01","valor":512},{"serie":"08 - Cortinas de enrollar","fecha":"2017-10-01","valor":515},{"serie":"08 - Cortinas de enrollar","fecha":"2017-12-01","valor":512},{"serie":"08 - Cortinas de enrollar","fecha":"2018-02-01","valor":515},{"serie":"08 - Cortinas de enrollar","fecha":"2018-03-01","valor":506},{"serie":"08 - Cortinas de enrollar","fecha":"2018-04-01","valor":512},{"serie":"08 - Cortinas de enrollar","fecha":"2018-05-01","valor":530},{"serie":"08 - Cortinas de enrollar","fecha":"2018-06-01","valor":541},{"serie":"08 - Cortinas de enrollar","fecha":"2018-07-01","valor":538},{"serie":"08 - Cortinas de enrollar","fecha":"2018-08-01","valor":531},{"serie":"08 - Cortinas de enrollar","fecha":"2018-09-01","valor":550},{"serie":"08 - Cortinas de enrollar","fecha":"2018-11-01","valor":550},{"serie":"08 - Cortinas de enrollar","fecha":"2018-12-01","valor":544},{"serie":"08 - Cortinas de enrollar","fecha":"2019-01-01","valor":550},{"serie":"08 - Cortinas de enrollar","fecha":"2019-03-01","valor":556},{"serie":"08 - Cortinas de enrollar","fecha":"2019-04-01","valor":565},{"serie":"08 - Cortinas de enrollar","fecha":"2019-06-01","valor":572},{"serie":"08 - Cortinas de enrollar","fecha":"2019-07-01","valor":584},{"serie":"08 - Cortinas de enrollar","fecha":"2019-09-01","valor":596},{"serie":"08 - Cortinas de enrollar","fecha":"2019-11-01","valor":606},{"serie":"08 - Cortinas de enrollar","fecha":"2019-12-01","valor":608},{"serie":"08 - Cortinas de enrollar","fecha":"2020-01-01","valor":603},{"serie":"08 - Cortinas de enrollar","fecha":"2020-02-01","valor":636},{"serie":"08 - Cortinas de enrollar","fecha":"2020-03-01","valor":647},{"serie":"08 - Cortinas de enrollar","fecha":"2020-04-01","valor":670},{"serie":"08 - Cortinas de enrollar","fecha":"2020-05-01","valor":630},{"serie":"08 - Cortinas de enrollar","fecha":"2020-06-01","valor":608},{"serie":"08 - Cortinas de enrollar","fecha":"2020-07-01","valor":617},{"serie":"08 - Cortinas de enrollar","fecha":"2020-10-01","valor":619},{"serie":"08 - Cortinas de enrollar","fecha":"2020-12-01","valor":617},{"serie":"08 - Cortinas de enrollar","fecha":"2021-01-01","valor":694},{"serie":"08 - Cortinas de enrollar","fecha":"2021-02-01","valor":700},{"serie":"08 - Cortinas de enrollar","fecha":"2021-03-01","valor":707},{"serie":"08 - Cortinas de enrollar","fecha":"2021-04-01","valor":704},{"serie":"08 - Cortinas de enrollar","fecha":"2021-05-01","valor":710},{"serie":"08 - Cortinas de enrollar","fecha":"2021-07-01","valor":710},{"serie":"08 - Cortinas de enrollar","fecha":"2021-08-01","valor":694},{"serie":"08 - Cortinas de enrollar","fecha":"2021-09-01","valor":704},{"serie":"08 - Cortinas de enrollar","fecha":"2021-11-01","valor":704},{"serie":"08 - Cortinas de enrollar","fecha":"2021-12-01","valor":713},{"serie":"08 - Cortinas de enrollar","fecha":"2022-01-01","valor":744},{"serie":"08 - Cortinas de enrollar","fecha":"2022-02-01","valor":750},{"serie":"08 - Cortinas de enrollar","fecha":"2022-03-01","valor":762},{"serie":"08 - Cortinas de enrollar","fecha":"2022-05-01","valor":762},{"serie":"08 - Cortinas de enrollar","fecha":"2022-06-01","valor":812},{"serie":"08 - Cortinas de enrollar","fecha":"2022-07-01","valor":824},{"serie":"08 - Cortinas de enrollar","fecha":"2022-09-01","valor":836},
{"serie":"Promedio mobiliario","fecha":"2010-01-01","valor":295},{"serie":"Promedio mobiliario","fecha":"2010-05-01","valor":300},{"serie":"Promedio mobiliario","fecha":"2010-07-01","valor":306},{"serie":"Promedio mobiliario","fecha":"2010-10-01","valor":309},{"serie":"Promedio mobiliario","fecha":"2010-11-01","valor":315},{"serie":"Promedio mobiliario","fecha":"2010-12-01","valor":319},{"serie":"Promedio mobiliario","fecha":"2011-01-01","valor":328},{"serie":"Promedio mobiliario","fecha":"2011-03-01","valor":334},{"serie":"Promedio mobiliario","fecha":"2011-06-01","valor":332},{"serie":"Promedio mobiliario","fecha":"2011-07-01","valor":340},{"serie":"Promedio mobiliario","fecha":"2011-09-01","valor":340},{"serie":"Promedio mobiliario","fecha":"2011-10-01","valor":362},{"serie":"Promedio mobiliario","fecha":"2011-11-01","valor":361},{"serie":"Promedio mobiliario","fecha":"2011-12-01","valor":370},{"serie":"Promedio mobiliario","fecha":"2012-02-01","valor":376},{"serie":"Promedio mobiliario","fecha":"2012-03-01","valor":378},{"serie":"Promedio mobiliario","fecha":"2012-05-01","valor":384},{"serie":"Promedio mobiliario","fecha":"2012-07-01","valor":396},{"serie":"Promedio mobiliario","fecha":"2012-08-01","valor":391},{"serie":"Promedio mobiliario","fecha":"2012-09-01","valor":390},{"serie":"Promedio mobiliario","fecha":"2012-10-01","valor":414},{"serie":"Promedio mobiliario","fecha":"2012-12-01","valor":411},{"serie":"Promedio mobiliario","fecha":"2013-01-01","valor":420},{"serie":"Promedio mobiliario","fecha":"2013-03-01","valor":424},{"serie":"Promedio mobiliario","fecha":"2013-05-01","valor":430},{"serie":"Promedio mobiliario","fecha":"2013-08-01","valor":437},{"serie":"Promedio mobiliario","fecha":"2013-09-01","valor":439},{"serie":"Promedio mobiliario","fecha":"2013-10-01","valor":460},{"serie":"Promedio mobiliario","fecha":"2013-11-01","valor":462},{"serie":"Promedio mobiliario","fecha":"2014-01-01","valor":461},{"serie":"Promedio mobiliario","fecha":"2014-03-01","valor":464},{"serie":"Promedio mobiliario","fecha":"2014-06-01","valor":467},{"serie":"Promedio mobiliario","fecha":"2014-07-01","valor":479},{"serie":"Promedio mobiliario","fecha":"2014-09-01","valor":482},{"serie":"Promedio mobiliario","fecha":"2014-10-01","valor":507},{"serie":"Promedio mobiliario","fecha":"2014-11-01","valor":507},{"serie":"Promedio mobiliario","fecha":"2015-01-01","valor":516},{"serie":"Promedio mobiliario","fecha":"2015-03-01","valor":522},{"serie":"Promedio mobiliario","fecha":"2015-05-01","valor":528},{"serie":"Promedio mobiliario","fecha":"2015-07-01","valor":541},{"serie":"Promedio mobiliario","fecha":"2015-08-01","valor":553},{"serie":"Promedio mobiliario","fecha":"2015-09-01","valor":559},{"serie":"Promedio mobiliario","fecha":"2015-10-01","valor":581},{"serie":"Promedio mobiliario","fecha":"2015-11-01","valor":578},{"serie":"Promedio mobiliario","fecha":"2016-01-01","valor":584},{"serie":"Promedio mobiliario","fecha":"2016-03-01","valor":587},{"serie":"Promedio mobiliario","fecha":"2016-05-01","valor":587},{"serie":"Promedio mobiliario","fecha":"2016-07-01","valor":593},{"serie":"Promedio mobiliario","fecha":"2016-08-01","valor":587},{"serie":"Promedio mobiliario","fecha":"2016-09-01","valor":584},{"serie":"Promedio mobiliario","fecha":"2016-10-01","valor":583},{"serie":"Promedio mobiliario","fecha":"2016-11-01","valor":605},{"serie":"Promedio mobiliario","fecha":"2016-12-01","valor":620},{"serie":"Promedio mobiliario","fecha":"2017-02-01","valor":620},{"serie":"Promedio mobiliario","fecha":"2017-05-01","valor":620},{"serie":"Promedio mobiliario","fecha":"2017-07-01","valor":633},{"serie":"Promedio mobiliario","fecha":"2017-08-01","valor":642},{"serie":"Promedio mobiliario","fecha":"2017-09-01","valor":642},{"serie":"Promedio mobiliario","fecha":"2017-10-01","valor":658},{"serie":"Promedio mobiliario","fecha":"2017-12-01","valor":656},{"serie":"Promedio mobiliario","fecha":"2018-01-01","valor":667},{"serie":"Promedio mobiliario","fecha":"2018-03-01","valor":664},{"serie":"Promedio mobiliario","fecha":"2018-05-01","valor":676},{"serie":"Promedio mobiliario","fecha":"2018-07-01","valor":683},{"serie":"Promedio mobiliario","fecha":"2018-09-01","valor":698},{"serie":"Promedio mobiliario","fecha":"2018-10-01","valor":704},{"serie":"Promedio mobiliario","fecha":"2018-12-01","valor":704},{"serie":"Promedio mobiliario","fecha":"2019-01-01","valor":720},{"serie":"Promedio mobiliario","fecha":"2019-03-01","valor":729},{"serie":"Promedio mobiliario","fecha":"2019-04-01","valor":738},{"serie":"Promedio mobiliario","fecha":"2019-06-01","valor":741},{"serie":"Promedio mobiliario","fecha":"2019-07-01","valor":766},{"serie":"Promedio mobiliario","fecha":"2019-08-01","valor":772},{"serie":"Promedio mobiliario","fecha":"2019-10-01","valor":781},{"serie":"Promedio mobiliario","fecha":"2019-12-01","valor":785},{"serie":"Promedio mobiliario","fecha":"2020-01-01","valor":780},{"serie":"Promedio mobiliario","fecha":"2020-02-01","valor":790},{"serie":"Promedio mobiliario","fecha":"2020-03-01","valor":803},{"serie":"Promedio mobiliario","fecha":"2020-04-01","valor":806},{"serie":"Promedio mobiliario","fecha":"2020-05-01","valor":809},{"serie":"Promedio mobiliario","fecha":"2020-06-01","valor":846},{"serie":"Promedio mobiliario","fecha":"2020-08-01","valor":849},{"serie":"Promedio mobiliario","fecha":"2020-11-01","valor":849},{"serie":"Promedio mobiliario","fecha":"2021-01-01","valor":858},{"serie":"Promedio mobiliario","fecha":"2021-02-01","valor":876},{"serie":"Promedio mobiliario","fecha":"2021-03-01","valor":900},{"serie":"Promedio mobiliario","fecha":"2021-04-01","valor":907},{"serie":"Promedio mobiliario","fecha":"2021-05-01","valor":917},{"serie":"Promedio mobiliario","fecha":"2021-06-01","valor":926},{"serie":"Promedio mobiliario","fecha":"2021-07-01","valor":938},{"serie":"Promedio mobiliario","fecha":"2021-08-01","valor":923},{"serie":"Promedio mobiliario","fecha":"2021-10-01","valor":929},{"serie":"Promedio mobiliario","fecha":"2021-11-01","valor":928},{"serie":"Promedio mobiliario","fecha":"2021-12-01","valor":941},{"serie":"Promedio mobiliario","fecha":"2022-01-01","valor":945},{"serie":"Promedio mobiliario","fecha":"2022-02-01","valor":947},{"serie":"Promedio mobiliario","fecha":"2022-03-01","valor":947},{"serie":"Promedio mobiliario","fecha":"2022-04-01","valor":966},{"serie":"Promedio mobiliario","fecha":"2022-05-01","valor":961},{"serie":"Promedio mobiliario","fecha":"2022-07-01","valor":957},{"serie":"Promedio mobiliario","fecha":"2022-09-01","valor":951}
]},
"mark": {"type": "line", "strokeWidth": 4.5, "strokeCap": "round", "strokeJoin": "round"},
"encoding": {
  "x": {"field": "fecha", "type": "temporal", "scale": {"type": "utc", "nice": false},
        "axis": {"title": null, "grid": false, "domain": false, "ticks": false,
                 "tickCount": {"interval": "year", "step": 1},
                 "labelExpr": "'ene-' + utcFormat(datum.value, '%y')",
                 "labelFont": "Noto Sans", "labelFontSize": 18, "labelColor": "#595959",
                 "labelPadding": 20, "labelFlush": false, "labelOverlap": false}},
  "y": {"field": "valor", "type": "quantitative", "scale": {"domain": [200, 1200], "nice": false, "zero": false},
        "axis": {"title": "Índice base dic-1999=100", "values": [200,300,400,500,600,700,800,900,1000,1100,1200],
                 "labelExpr": "replace(format(datum.value, ','), ',', '.')",
                 "grid": true, "gridColor": "#D9D9D9", "gridWidth": 1.3, "domain": false, "ticks": false,
                 "labelFont": "Noto Sans", "labelFontSize": 18, "labelColor": "#595959", "labelPadding": 19.5,
                 "titleFont": "Lato", "titleFontSize": 21, "titleFontWeight": "normal",
                 "titleColor": "#595959", "titleX": -94, "titleY": 213, "titleAngle": 270,
                 "titleAlign": "center", "titleBaseline": "middle"}},
  "color": {"field": "serie", "type": "nominal",
            "scale": {"domain": ["Índice General","Índice Parcial","03.4 - Otros rubros de albañilería","04 - Carpinteria","06 - Herrería","08 - Cortinas de enrollar","Promedio mobiliario"],
                      "range": ["#0070C0","#00B0F0","#ABABAB","#BF9000","#000000","#FF0000","#70AD47"]},
            "legend": {"title": null, "orient": "none", "legendX": 91.5, "legendY": 34.4, "direction": "vertical",
                       "symbolType": "stroke", "symbolSize": 1936, "symbolStrokeWidth": 4.5,
                       "labelFont": "Noto Sans", "labelFontSize": 18, "labelColor": "#595959", "labelOffset": 4,
                       "rowPadding": 12.5, "clipHeight": 20, "padding": 0, "labelLimit": 400}}
}
}
